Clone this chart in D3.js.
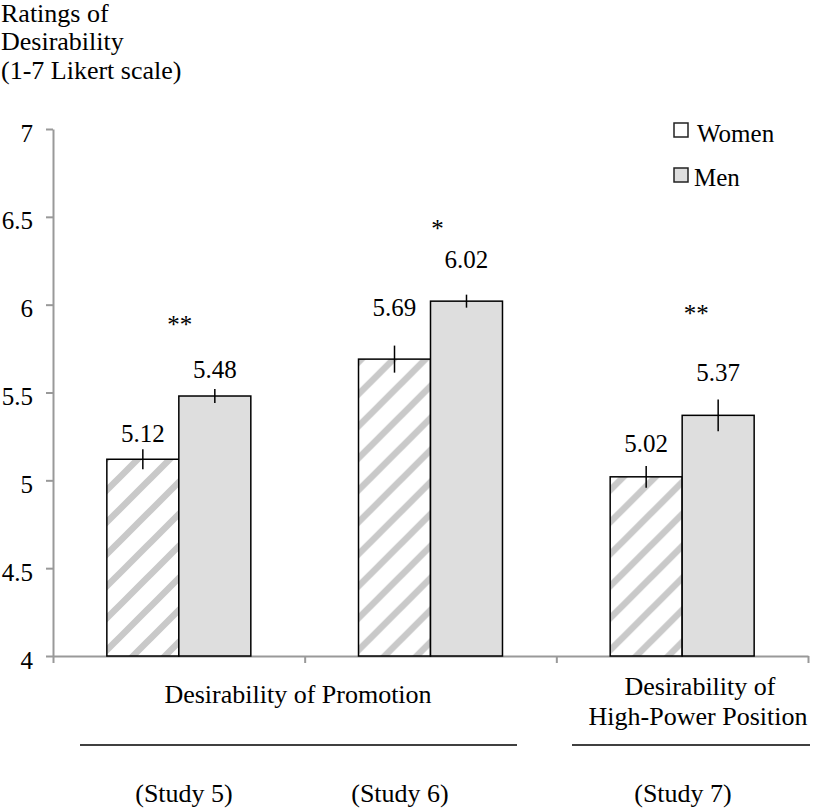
<!DOCTYPE html>
<html>
<head>
<meta charset="utf-8">
<script src="https://cdn.jsdelivr.net/npm/d3@7"></script>
<style>
  html, body { margin: 0; padding: 0; background: #fff; }
  svg { display: block; }
  text { font-family: "Liberation Serif", "Times New Roman", serif; fill: #000; }
</style>
</head>
<body>
<svg id="chart" width="815" height="808"></svg>
<script>
// ---- data ----
const groups = ["Study 5", "Study 6", "Study 7"];
const seriesNames = ["Women", "Men"];
const women = [5.12, 5.69, 5.02];
const men = [5.48, 6.02, 5.37];
const womenErr = [0.057, 0.077, 0.062];
const menErr = [0.04, 0.037, 0.09];
const sigLabels = ["**", "*", "**"];
const yTicks = [4, 4.5, 5, 5.5, 6, 6.5, 7];
const yTitle = ["Ratings of", "Desirability", "(1-7 Likert scale)"];
const studyLabels = ["(Study 5)", "(Study 6)", "(Study 7)"];

// ---- layout (positions for annotations, in data units / px) ----
const womenLabelAt = [5.218, 5.935, 5.161];
const menLabelAt = [5.583, 6.209, 5.565];
const sigAt = [5.839, 6.385, 5.901];
const sigDx = [1, 7, 14];

const svg = d3.select("#chart");
const X0 = 53, X1 = 808, Y0 = 656, Y1 = 129;
const SERIF = "'Liberation Serif', 'Times New Roman', serif";

const x = d3.scaleBand().domain(groups).range([X0, X1]).paddingInner(0).paddingOuter(0);
const xs = d3.scaleBand().domain(seriesNames).range([0, x.bandwidth()]).paddingInner(0).paddingOuter(0.748);
const xEdges = d3.scaleLinear().domain([0, groups.length]).range([X0, X1]);
const y = d3.scaleLinear().domain([4, 7]).range([Y0, Y1]);

// pattern
const defs = svg.append("defs");
const pat = defs.append("pattern")
  .attr("id", "stripes")
  .attr("patternUnits", "userSpaceOnUse")
  .attr("width", 32).attr("height", 32);
pat.append("rect").attr("width", 32).attr("height", 32).attr("fill", "#fff");
pat.append("path")
  .attr("d", "M-8,8 L8,-8 M0,32 L32,0 M24,40 L40,24")
  .attr("stroke", "#c9c9c9").attr("stroke-width", 6.5);

// y axis
const yAxis = svg.append("g")
  .attr("transform", `translate(${X0},0)`)
  .call(d3.axisLeft(y).tickValues(yTicks).tickSize(7).tickSizeOuter(0).tickFormat(d3.format("")));
yAxis.attr("font-family", SERIF);
yAxis.select(".domain").attr("stroke", "#999").attr("stroke-width", 2);
yAxis.selectAll(".tick line").attr("stroke", "#999").attr("stroke-width", 2);
yAxis.selectAll(".tick text")
  .attr("x", -20).attr("dy", "0.48em")
  .style("font-family", SERIF)
  .style("font-size", "25px").attr("fill", "#000");

// x axis (category boundaries)
const xAxis = svg.append("g")
  .attr("transform", `translate(0,${Y0})`)
  .call(d3.axisBottom(xEdges).tickValues(d3.range(groups.length + 1)).tickSize(7).tickSizeOuter(0).tickFormat(""));
xAxis.select(".domain").attr("stroke", "#999").attr("stroke-width", 2);
xAxis.selectAll(".tick line").attr("stroke", "#999").attr("stroke-width", 2);

// bars
const rows = groups.map((g, i) => ({
  g, i,
  vals: [
    { s: "Women", v: women[i], e: womenErr[i], lab: womenLabelAt[i] },
    { s: "Men", v: men[i], e: menErr[i], lab: menLabelAt[i] }
  ]
}));

const gG = svg.selectAll(".grp").data(rows).join("g")
  .attr("class", "grp")
  .attr("transform", d => `translate(${x(d.g)},0)`);

gG.selectAll("rect").data(d => d.vals).join("rect")
  .attr("x", d => xs(d.s))
  .attr("width", xs.bandwidth())
  .attr("y", d => y(d.v))
  .attr("height", d => y(4) - y(d.v))
  .attr("fill", d => d.s === "Women" ? "url(#stripes)" : "#dedede")
  .attr("stroke", "#000").attr("stroke-width", 1.5);

gG.selectAll("line.err").data(d => d.vals).join("line")
  .attr("class", "err")
  .attr("x1", d => xs(d.s) + xs.bandwidth() / 2)
  .attr("x2", d => xs(d.s) + xs.bandwidth() / 2)
  .attr("y1", d => y(d.v + d.e))
  .attr("y2", d => y(d.v - d.e))
  .attr("stroke", "#000").attr("stroke-width", 1.5);

gG.selectAll("text.val").data(d => d.vals).join("text")
  .attr("class", "val")
  .attr("x", d => xs(d.s) + xs.bandwidth() / 2)
  .attr("y", d => y(d.lab))
  .attr("text-anchor", "middle")
  .style("font-size", "25px")
  .text(d => d.v.toFixed(2));

gG.append("text")
  .attr("x", d => x.bandwidth() / 2 + sigDx[d.i])
  .attr("y", d => y(sigAt[d.i]))
  .attr("text-anchor", "middle")
  .style("font-size", "25px")
  .text(d => sigLabels[d.i]);

// y title
svg.append("text").selectAll("tspan").data(yTitle).join("tspan")
  .attr("x", 1)
  .attr("y", (d, i) => [22, 50, 79][i])
  .style("font-size", "26px")
  .text(d => d);

// legend
const legend = [
  { name: seriesNames[0], fill: "#fff", ry: 123, ty: 142, tx: 697 },
  { name: seriesNames[1], fill: "#dedede", ry: 168, ty: 186, tx: 694 }
];
legend.forEach(l => {
  svg.append("rect").attr("x", 674).attr("y", l.ry).attr("width", 14).attr("height", 14)
    .attr("fill", l.fill).attr("stroke", "#222").attr("stroke-width", 1.5);
  svg.append("text").attr("x", l.tx).attr("y", l.ty).style("font-size", "25px").text(l.name);
});

// category labels
svg.append("text").attr("x", 298).attr("y", 703).attr("text-anchor", "middle")
  .style("font-size", "26px").text("Desirability of Promotion");
svg.append("text").attr("x", 700).attr("y", 695).attr("text-anchor", "middle")
  .style("font-size", "26px").text("Desirability of");
svg.append("text").attr("x", 698).attr("y", 725).attr("text-anchor", "middle")
  .style("font-size", "26px").text("High-Power Position");

svg.append("line").attr("x1", 80).attr("x2", 517).attr("y1", 745).attr("y2", 745)
  .attr("stroke", "#000").attr("stroke-width", 1.5);
svg.append("line").attr("x1", 572).attr("x2", 810).attr("y1", 745).attr("y2", 745)
  .attr("stroke", "#000").attr("stroke-width", 1.5);

const studyX = [184, 400, 683];
svg.selectAll("text.study").data(studyLabels).join("text")
  .attr("class", "study")
  .attr("x", (d, i) => studyX[i]).attr("y", 802)
  .attr("text-anchor", "middle")
  .style("font-size", "26px")
  .text(d => d);
</script>
</body>
</html>
